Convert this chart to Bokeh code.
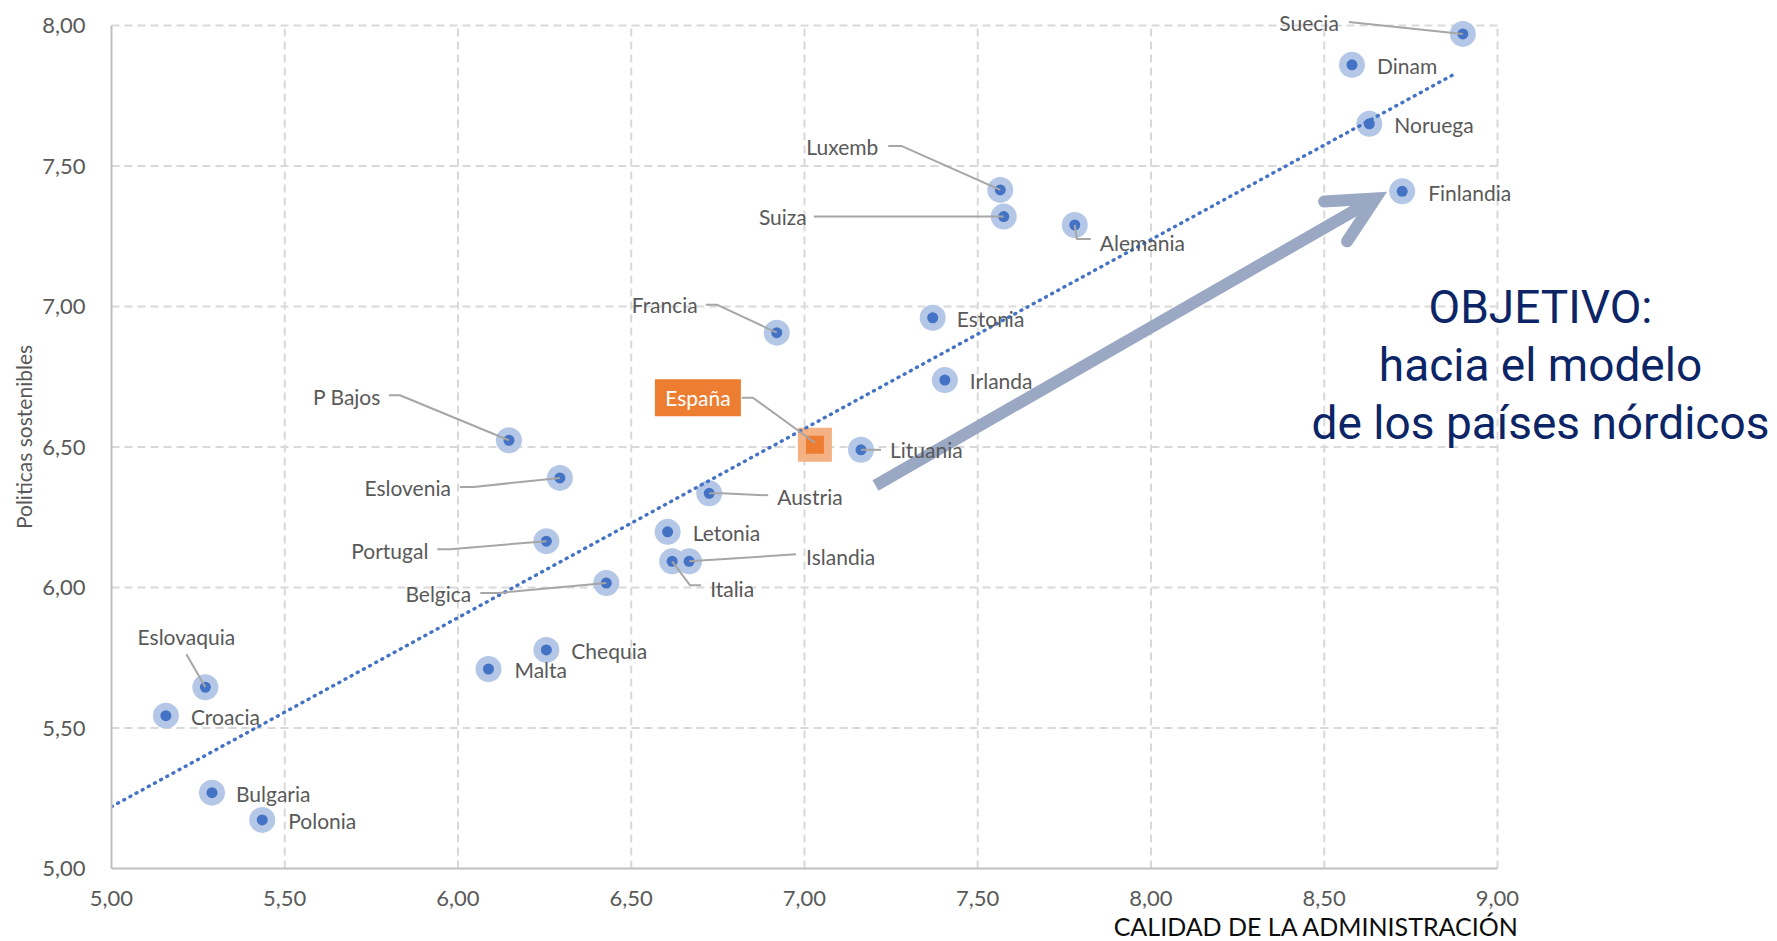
from bokeh.plotting import figure
from bokeh.models import (Range1d, FixedTicker, CustomJSTickFormatter, ColumnDataSource,
                          LabelSet, Label, Arrow, OpenHead, Title)
from bokeh.core.properties import value
from bokeh.embed import file_html
from bokeh.resources import INLINE

# ---------------- data ----------------
countries = ["Suecia", "Dinam", "Noruega", "Finlandia", "Luxemb", "Suiza", "Alemania",
             "Francia", "Estonia", "Irlanda", "España", "Lituania", "P Bajos", "Eslovenia",
             "Austria", "Letonia", "Portugal", "Italia", "Islandia", "Belgica", "Chequia",
             "Malta", "Eslovaquia", "Croacia", "Bulgaria", "Polonia"]
calidad = [8.90, 8.58, 8.63, 8.725, 7.565, 7.575, 7.78,
           6.92, 7.37, 7.405, 7.03, 7.163, 6.147, 6.294,
           6.725, 6.605, 6.255, 6.618, 6.667, 6.428, 6.255,
           6.088, 5.271, 5.157, 5.29, 5.435]
politicas = [7.97, 7.86, 7.65, 7.41, 7.415, 7.32, 7.29,
             6.907, 6.96, 6.738, 6.508, 6.49, 6.524, 6.39,
             6.335, 6.198, 6.165, 6.093, 6.093, 6.016, 5.778,
             5.71, 5.645, 5.544, 5.27, 5.173]
highlight = "España"
trend_x = [5.00, 8.88]
trend_y = [5.22, 7.83]
x_ticks = [5.0, 5.5, 6.0, 6.5, 7.0, 7.5, 8.0, 8.5, 9.0]
y_ticks = [5.0, 5.5, 6.0, 6.5, 7.0, 7.5, 8.0]
x_title = "CALIDAD DE LA ADMINISTRACIÓN"
y_title = "Politicas sostenibles"
objective_lines = ["OBJETIVO:", "hacia el modelo", "de los países nórdicos"]

# ---------------- layout (pixels) ----------------
W, H = 1777, 941
LEFT, BOTTOM = 111, 73
PX_X, PX_Y = 346.5, 281.0          # pixels per data unit
EXTRA_T = 20
RIGHT = 0
frame_w = W - LEFT - RIGHT
x_end = x_ticks[0] + frame_w / PX_X
y_end = y_ticks[-1] + EXTRA_T / PX_Y
frame_h = (y_end - y_ticks[0]) * PX_Y
TOP = int(round(H - BOTTOM - frame_h))
X_TITLE_RIGHT = 1519

def px_to_data(x0, y0, dx, dy):
    return x0 + dx / PX_X, y0 - dy / PX_Y

def screen_to_data(sx, sy):
    return x_ticks[0] + (sx - LEFT) / PX_X, y_ticks[-1] - (sy - (TOP + EXTRA_T)) / PX_Y

label_layout = {
    "Suecia": ("right", -124, -11, [(-114, -12), (0, 0)]),
    "Dinam": ("left", 25, 1, None),
    "Noruega": ("left", 25, 1, None),
    "Finlandia": ("left", 26, 1, None),
    "Luxemb": ("right", -122, -43, [(-112, -44), (-99, -44), (0, 0)]),
    "Suiza": ("right", -197, 0, [(-190, 0), (0, 0)]),
    "Alemania": ("left", 25, 17, [(0, 0), (2, 14), (16, 14)]),
    "Francia": ("right", -79, -28, [(-71, -28), (-60, -28), (0, 0)]),
    "Estonia": ("left", 24, 1, None),
    "Irlanda": ("left", 25, 0, None),
    "España": ("box", -117, -47, [(-73, -47), (-62, -47), (0, -2)]),
    "Lituania": ("left", 29, 0, [(0, 0), (20, 0)]),
    "P Bajos": ("right", -128, -44, [(-120, -45), (-109, -45), (0, 0)]),
    "Eslovenia": ("right", -109, 10, [(-100, 9), (-86, 9), (0, 0)]),
    "Austria": ("left", 68, 3, [(0, 0), (12, 0), (59, 2)]),
    "Letonia": ("left", 25, 1, None),
    "Portugal": ("right", -118, 9, [(-109, 8), (-96, 8), (0, 0)]),
    "Italia": ("left", 38, 27, [(0, 0), (18, 24), (29, 24)]),
    "Islandia": ("left", 117, -5, [(0, 0), (107, -7)]),
    "Belgica": ("right", -135, 10, [(-126, 10), (-108, 10), (0, 0)]),
    "Chequia": ("left", 25, 1, None),
    "Malta": ("left", 26, 1, None),
    "Eslovaquia": ("center", -19, -51, [(-19, -33), (0, 0)]),
    "Croacia": ("left", 25, 1, None),
    "Bulgaria": ("left", 24, 1, None),
    "Polonia": ("left", 26, 1, None),
}

LABEL_FONT = "Lato"
LABEL_SIZE = "21px"
LABEL_COLOR = "#595959"
LEADER_COLOR = "#A6A6A6"

p = figure(width=W, height=H, x_range=Range1d(x_ticks[0], x_end), y_range=Range1d(y_ticks[0], y_end),
           min_border_left=LEFT, min_border_right=RIGHT, min_border_top=TOP, min_border_bottom=0,
           output_backend="svg", toolbar_location=None)
p.outline_line_color = None
p.xgrid.grid_line_color = None
p.ygrid.grid_line_color = None
p.background_fill_color = "white"
p.border_fill_color = "white"

fmt = CustomJSTickFormatter(code="return tick.toFixed(2).replace('.', ',');")
for ax, ticks in ((p.xaxis, x_ticks), (p.yaxis, y_ticks)):
    ax.ticker = FixedTicker(ticks=ticks)
    ax.formatter = fmt
    ax.axis_line_color = "#BFBFBF"
    ax.axis_line_width = 2
    ax.major_tick_line_color = None
    ax.minor_tick_line_color = None
    ax.major_label_text_font = LABEL_FONT
    ax.major_label_text_font_size = "22px"
    ax.major_label_text_color = LABEL_COLOR
    ax.major_label_standoff = 20
p.xaxis.bounds = (x_ticks[0], x_ticks[-1])
p.yaxis.bounds = (y_ticks[0], y_ticks[-1])
p.xaxis.major_label_standoff = 16
p.yaxis.axis_label = y_title
p.yaxis.axis_label_text_font = LABEL_FONT
p.yaxis.axis_label_text_font_size = "21px"
p.yaxis.axis_label_text_font_style = "normal"
p.yaxis.axis_label_text_color = LABEL_COLOR
p.yaxis.axis_label_standoff = 3

# x-axis title, right aligned under the axis
p.add_layout(Title(text=x_title, align="right", text_font=LABEL_FONT, text_font_size="25px",
                   text_font_style="normal", text_color="#0D0D0D", standoff=1,
                   offset=W - X_TITLE_RIGHT), "below")

# dashed grid limited to the axes' extent
gx0 = list(x_ticks[1:])
p.segment(x0=gx0, y0=[y_ticks[0]] * len(gx0), x1=gx0, y1=[y_ticks[-1]] * len(gx0),
          line_color="#D9D9D9", line_width=2, line_dash="8 5")
gy0 = list(y_ticks[1:])
p.segment(x0=[x_ticks[0]] * len(gy0), y0=gy0, x1=[x_ticks[-1]] * len(gy0), y1=gy0,
          line_color="#D9D9D9", line_width=2, line_dash="8 5")

# markers
bx = [x for c, x in zip(countries, calidad) if c != highlight]
by = [y for c, y in zip(countries, politicas) if c != highlight]
hx = [x for c, x in zip(countries, calidad) if c == highlight]
hy = [y for c, y in zip(countries, politicas) if c == highlight]
p.scatter(bx, by, marker="circle", size=26, fill_color="#B4C7E7", line_color=None)
p.scatter(bx, by, marker="circle", size=11, fill_color="#4472C4", line_color=None)
p.scatter(hx, hy, marker="square", size=34, fill_color="#F4B183", line_color=None)
p.scatter(hx, hy, marker="square", size=18, fill_color="#ED7D31", line_color=None)

# trend line
p.line(trend_x, trend_y, line_color="#4472C4", line_width=3.4, line_dash="1 6", line_cap="round")

# leader lines, labels
lead_xs, lead_ys = [], []
groups = {"left": ([], [], []), "right": ([], [], []), "center": ([], [], [])}
box_pos = None
for c, x, y in zip(countries, calidad, politicas):
    align, dx, dy, path = label_layout[c]
    if path:
        pts = [px_to_data(x, y, a, b) for a, b in path]
        lead_xs.append([q[0] for q in pts])
        lead_ys.append([q[1] for q in pts])
    lx, ly = px_to_data(x, y, dx, dy)
    if align == "box":
        box_pos = (lx, ly, c)
    else:
        g = groups[align]
        g[0].append(lx); g[1].append(ly); g[2].append(c)

p.multi_line(lead_xs, lead_ys, line_color=LEADER_COLOR, line_width=2)

if box_pos:
    p.rect(x=[box_pos[0]], y=[box_pos[1]], width=86, height=37, width_units="screen",
           height_units="screen", fill_color="#ED7D31", line_color=None)

# arrow
ax0, ay0 = screen_to_data(875, 485)
ax1, ay1 = screen_to_data(1375, 198)
arrow_color = "#9AA8C4"
p.add_layout(Arrow(x_start=ax0, y_start=ay0, x_end=ax1, y_end=ay1,
                   line_color=arrow_color, line_width=12,
                   end=OpenHead(size=46, line_color=arrow_color, line_width=12,
                                line_join="miter", line_cap="round")))

for align, (gx, gy, gt) in groups.items():
    src = ColumnDataSource(dict(x=gx, y=gy, t=gt))
    p.add_layout(LabelSet(x="x", y="y", text="t", source=src, text_align=value(align),
                          text_baseline=value("middle"), text_font=value(LABEL_FONT),
                          text_font_size=value(LABEL_SIZE), text_color=value(LABEL_COLOR)))

if box_pos:
    p.add_layout(Label(x=box_pos[0], y=box_pos[1], text=box_pos[2], text_align="center",
                       text_baseline="middle", text_font=LABEL_FONT, text_font_size=LABEL_SIZE,
                       text_color="white"))

# objective note
for line_txt, sy in zip(objective_lines, [306, 364, 422]):
    ox, oy = screen_to_data(1540, sy)
    p.add_layout(Label(x=ox, y=oy, text=line_txt, text_align="center", text_baseline="middle",
                       text_font="Roboto", text_font_size="46px", text_color="#0B2566"))

open("out.html", "w").write(file_html(p, INLINE))
